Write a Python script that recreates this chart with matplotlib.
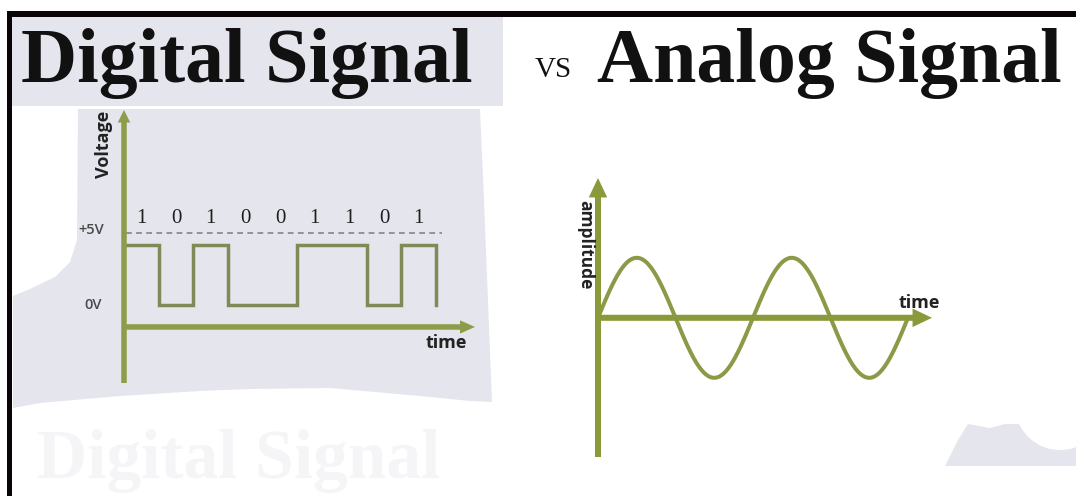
import numpy as np
import matplotlib.pyplot as plt
from matplotlib.patches import Polygon, Rectangle, Circle

# digital signal: the bit pattern written above the square wave
bits = [1, 0, 1, 0, 0, 1, 1, 0, 1]
high_v = 5.0
low_v = 0.0
ref_level = 6.0          # the dashed "+5V" guide sits a little above the wave

# analog signal: a plain sine
cycles = 2
amplitude = 1.0

W, H = 1076, 496
fig = plt.figure(figsize=(W / 100, H / 100), dpi=100)

# background layer in pixel units (frame, paper shapes, titles)
bg = fig.add_axes([0, 0, 1, 1])
bg.set_xlim(0, W)
bg.set_ylim(H, 0)
bg.axis('off')

lav = '#e5e5ee'
bg.add_patch(Rectangle((12, 17), 491, 89, color=lav, lw=0))
body = [(78, 109), (480, 109), (484, 200), (492, 402), (470, 401), (420, 396),
        (330, 388), (250, 389), (200, 391), (120, 396), (40, 403), (13, 408),
        (13, 296), (30, 289), (55, 277), (70, 262), (77, 240)]
bg.add_patch(Polygon(body, closed=True, color=lav, lw=0))
corner = [(945, 466), (958, 440), (968, 424), (990, 428), (1005, 424),
          (1076, 424), (1076, 466)]
bg.add_patch(Polygon(corner, closed=True, color=lav, lw=0))
bg.add_patch(Circle((1060, 405), 45, color='white', lw=0))

# black frame (top and left)
bg.add_patch(Rectangle((7, 11), W - 7, 6, color='#0a0406', lw=0))
bg.add_patch(Rectangle((7, 11), 5, H - 11, color='#0a0406', lw=0))

# faint watermark at the bottom
bg.text(37, 478, 'Digital Signal', family='Liberation Serif', weight='bold',
        fontsize=50, color='#f5f5f7', ha='left', va='baseline')

bg.text(21, 82, 'Digital Signal', family='Liberation Serif', weight='bold',
        fontsize=56, color='#111111', ha='left', va='baseline')
bg.text(535, 77, 'VS', family='Liberation Serif', fontsize=21,
        color='#111111', ha='left', va='baseline')
bg.text(597, 82, 'Analog Signal', family='Liberation Serif', weight='bold',
        fontsize=56, color='#111111', ha='left', va='baseline')

# ---- digital panel ----
ax_d = fig.add_axes([124 / W, 1 - 383 / H, (475 - 124) / W, (383 - 110) / H])
ax_d.set_xlim(0, 10.12)
ax_d.set_ylim(-6.5, 16.25)
ax_d.axis('off')

axis_d = '#8d9c4a'
ax_d.annotate('', xy=(0, 16.25), xytext=(0, -6.5), annotation_clip=False,
              arrowprops=dict(arrowstyle='simple,head_length=0.75,head_width=0.75,tail_width=0.33',
                              mutation_scale=12, color=axis_d, lw=0, shrinkA=0, shrinkB=0))
ax_d.annotate('', xy=(10.12, -1.83), xytext=(0, -1.83), annotation_clip=False,
              arrowprops=dict(arrowstyle='simple,head_length=0.9,head_width=0.8,tail_width=0.33',
                              mutation_scale=12, color=axis_d, lw=0, shrinkA=0, shrinkB=0))

levels = [high_v if b else low_v for b in bits] + [low_v]
ax_d.step(np.arange(len(bits) + 1), levels, where='post', color='#7f8b55',
          lw=2.5, clip_on=False, solid_joinstyle='miter')
ax_d.plot([0.06, 9.16], [ref_level, ref_level], ls=(0, (3.2, 2.4)),
          color='#8c8c8c', lw=1.3, clip_on=False)

for i, b in enumerate(bits):
    ax_d.text(i + 0.5, 7.17, str(b), ha='center', va='center',
              family='Liberation Serif', fontsize=15, color='#1e1e1e')

ax_d.text(-0.95, 6.25, '+5V', ha='center', va='center', family='Open Sans',
          weight='semibold', fontsize=10.5, color='#4a4a4a')
ax_d.text(-0.89, 0.0, '0V', ha='center', va='center', family='Open Sans',
          weight='semibold', fontsize=10.5, color='#4a4a4a')
ax_d.text(-0.58, 13.4, 'Voltage', rotation=90, ha='center', va='center',
          family='Open Sans', weight='bold', fontsize=13, color='#222222')
ax_d.text(9.28, -3.17, 'time', ha='center', va='center', family='Open Sans',
          weight='bold', fontsize=13, color='#222222')

# ---- analog panel ----
ax_a = fig.add_axes([598 / W, 1 - 457 / H, (932 - 598) / W, (457 - 178) / H])
ax_a.set_xlim(0, 2.155)
ax_a.set_ylim(-2.32, 2.33)
ax_a.axis('off')

axis_a = '#8a9a3a'
ax_a.annotate('', xy=(0, 2.33), xytext=(0, -2.32), annotation_clip=False,
              arrowprops=dict(arrowstyle='simple,head_length=1.0,head_width=0.95,tail_width=0.31',
                              mutation_scale=14, color=axis_a, lw=0, shrinkA=0, shrinkB=0))
ax_a.annotate('', xy=(2.155, 0), xytext=(0, 0), annotation_clip=False,
              arrowprops=dict(arrowstyle='simple,head_length=1.0,head_width=0.95,tail_width=0.31',
                              mutation_scale=14, color=axis_a, lw=0, shrinkA=0, shrinkB=0))

t = np.linspace(0, cycles, 400)
ax_a.plot(t, amplitude * np.sin(2 * np.pi * t), color='#8c9a48', lw=2.9,
          clip_on=False)

ax_a.text(2.07, 0.25, 'time', ha='center', va='center', family='Open Sans',
          weight='bold', fontsize=13, color='#222222')
ax_a.text(-0.084, 1.22, 'amplitude', rotation=-90, ha='center', va='center',
          family='Open Sans', weight='bold', fontsize=12.5, color='#222222')

fig.savefig('out.png', dpi=100)
